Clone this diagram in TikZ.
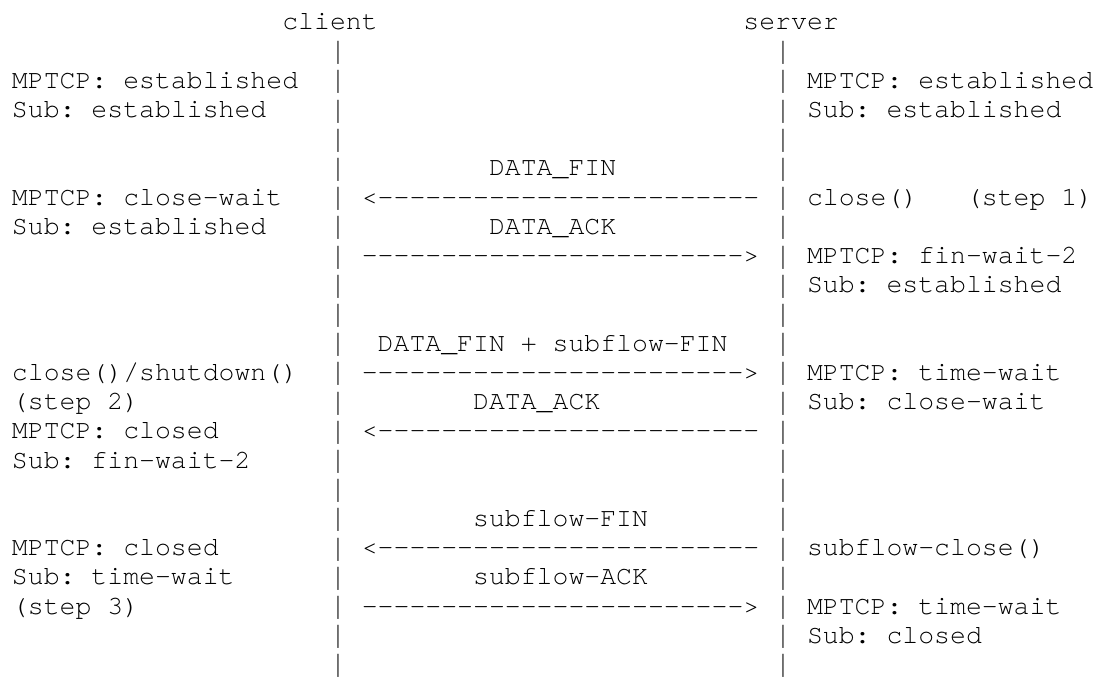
\documentclass[tikz,border=0pt]{standalone}
\usepackage{fontspec}
\setmonofont{texgyrecursor-regular.otf}[Ligatures={NoCommon}]
\begin{document}
\begin{tikzpicture}[x=15.9pt,y=-29.2pt,
  txt/.style={anchor=base west, inner sep=0pt, outer sep=0pt,
    font=\ttfamily\fontsize{26.5pt}{29pt}\selectfont, text=black}]
\useasboundingbox (0pt,0pt) rectangle (1101pt,-679pt);
\begin{scope}[shift={(12pt,-30pt)}]
% headers
\node[txt] (client) at (17,0) {client};
\node[txt] (server) at (46,0) {server};
% lifelines (ASCII bars)
\foreach \r in {1,...,22} {
  \node[txt] (lb\r) at (20,\r) {\raisebox{-1.5pt}{\scalebox{1}[1.2]{|}}};
  \node[txt] (rb\r) at (48,\r) {\raisebox{-1.5pt}{\scalebox{1}[1.2]{|}}};
}
% left states
\node[txt] (l2)  at (0,2)  {MPTCP: established};
\node[txt] (l3)  at (0,3)  {Sub: established};
\node[txt] (l6)  at (0,6)  {MPTCP: close-wait};
\node[txt] (l7)  at (0,7)  {Sub: established};
\node[txt] (l12) at (0,12) {close()/shutdown()};
\node[txt] (l13) at (0,13) {(step 2)};
\node[txt] (l14) at (0,14) {MPTCP: closed};
\node[txt] (l15) at (0,15) {Sub: fin-wait-2};
\node[txt] (l18) at (0,18) {MPTCP: closed};
\node[txt] (l19) at (0,19) {Sub: time-wait};
\node[txt] (l20) at (0,20) {(step 3)};
% right states
\node[txt] (r2)  at (50,2)  {MPTCP: established};
\node[txt] (r3)  at (50,3)  {Sub: established};
\node[txt] (r6)  at (50,6)  {close()};
\node[txt] (r6b) at (60,6)  {(step 1)};
\node[txt] (r8)  at (50,8)  {MPTCP: fin-wait-2};
\node[txt] (r9)  at (50,9)  {Sub: established};
\node[txt] (r12) at (50,12) {MPTCP: time-wait};
\node[txt] (r13) at (50,13) {Sub: close-wait};
\node[txt] (r18) at (50,18) {subflow-close()};
\node[txt] (r20) at (50,20) {MPTCP: time-wait};
\node[txt] (r21) at (50,21) {Sub: closed};
% messages
\node[txt] (m5)  at (30,5)  {DATA\_FIN};
\node[txt] (a6)  at (22,6)  {<------------------------};
\node[txt] (m7)  at (30,7)  {DATA\_ACK};
\node[txt] (a8)  at (22,8)  {------------------------>};
\node[txt] (m11) at (23,11) {DATA\_FIN + subflow-FIN};
\node[txt] (a12) at (22,12) {------------------------>};
\node[txt] (m13) at (29,13) {DATA\_ACK};
\node[txt] (a14) at (22,14) {<------------------------};
\node[txt] (m17) at (29,17) {subflow-FIN};
\node[txt] (a18) at (22,18) {<------------------------};
\node[txt] (m19) at (29,19) {subflow-ACK};
\node[txt] (a20) at (22,20) {------------------------>};
\end{scope}
\end{tikzpicture}
\end{document}
